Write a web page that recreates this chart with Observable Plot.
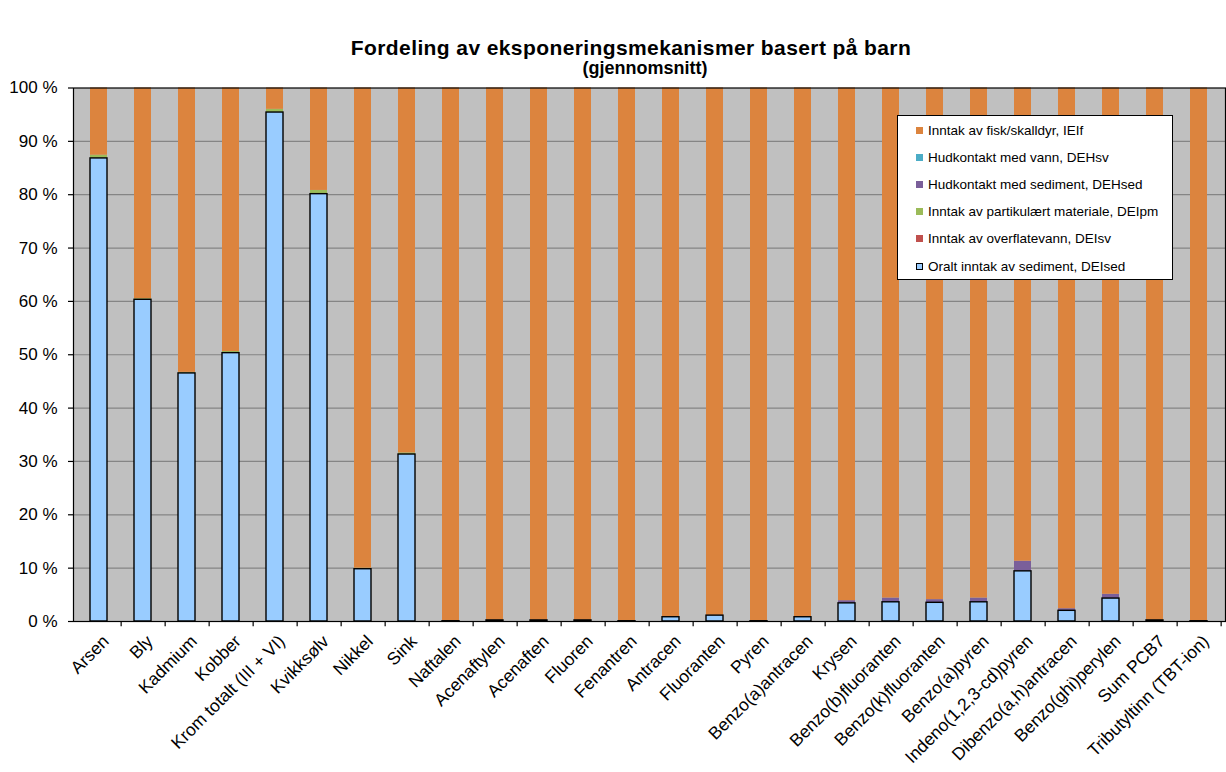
<!DOCTYPE html>
<html>
<head>
<meta charset="utf-8">
<script src="https://cdn.jsdelivr.net/npm/d3@7"></script>
<script src="https://cdn.jsdelivr.net/npm/@observablehq/plot@0.6"></script>
<style>
  body { margin: 0; background: white; font-family: "Liberation Sans", Arial, sans-serif; }
  #wrap { position: relative; width: 1226px; height: 772px; }
  .t { position: absolute; font-weight: bold; line-height: 1; white-space: nowrap; transform: translate(-50%, -50%); z-index: 2; }
  #legend { position: absolute; left: 897px; top: 115px; width: 276px; height: 165px; box-sizing: border-box; border: 1px solid black; background: white; font-size: 13.5px; z-index: 2; }
  .li { position: absolute; left: 18px; height: 16px; display: flex; align-items: center; transform: translateY(-50%); white-space: nowrap; }
  .sw { width: 7px; height: 7px; margin-right: 5px; box-sizing: border-box; }
</style>
</head>
<body>
<div id="wrap">
  <div id="chart" style="position:absolute; left:0; top:60px; z-index:1;"></div>
  <div class="t" style="left:631px; top:46.5px; font-size:21px; letter-spacing:0.4px;">Fordeling av eksponeringsmekanismer basert på barn</div>
  <div class="t" style="left:645px; top:67.5px; font-size:18px;">(gjennomsnitt)</div>
  <div id="legend"></div>
</div>
<script>
const categories = ["Arsen", "Bly", "Kadmium", "Kobber", "Krom totalt (III + VI)", "Kvikksølv", "Nikkel", "Sink",
  "Naftalen", "Acenaftylen", "Acenaften", "Fluoren", "Fenantren", "Antracen", "Fluoranten", "Pyren",
  "Benzo(a)antracen", "Krysen", "Benzo(b)fluoranten", "Benzo(k)fluoranten", "Benzo(a)pyren",
  "Indeno(1,2,3-cd)pyren", "Dibenzo(a,h)antracen", "Benzo(ghi)perylen", "Sum PCB7", "Tributyltinn (TBT-ion)"];

// stacking order, bottom to top
const seriesNames = ["Oralt inntak av sediment, DEIsed", "Inntak av overflatevann, DEIsv",
  "Inntak av partikulært materiale, DEIpm", "Hudkontakt med sediment, DEHsed",
  "Hudkontakt med vann, DEHsv", "Inntak av fisk/skalldyr, IEIf"];
const seriesColors = ["#99CCFF", "#C0504D", "#9BBB59", "#7A5F9A", "#4BACC6", "#DC843E"];

const DEIsed = [86.8, 60.3, 46.5, 50.3, 95.4, 80.1, 9.8, 31.3,
  0.05, 0.2, 0.2, 0.2, 0.05, 0.8, 1.1, 0.05,
  0.8, 3.4, 3.6, 3.5, 3.6, 9.4, 2.0, 4.3, 0.2, 0.05];
const DEIsv = [0, 0, 0, 0, 0, 0, 0, 0,
  0, 0, 0, 0, 0, 0, 0, 0,
  0, 0, 0, 0, 0, 0, 0, 0, 0, 0];
const DEIpm = [0.6, 0.2, 0.2, 0.3, 0.6, 0.7, 0.2, 0.3,
  0, 0, 0, 0, 0, 0, 0, 0,
  0, 0, 0, 0, 0, 0, 0, 0, 0, 0];
const DEHsed = [0, 0, 0, 0, 0, 0, 0, 0,
  0, 0.02, 0.02, 0.02, 0, 0.05, 0.05, 0,
  0.05, 0.5, 0.8, 0.6, 0.8, 1.9, 0.4, 0.8, 0.02, 0];
const DEHsv = [0, 0, 0, 0, 0, 0, 0, 0,
  0, 0, 0, 0, 0, 0, 0, 0,
  0, 0, 0, 0, 0, 0, 0, 0, 0, 0];
const IEIf = categories.map((c, i) => 100 - DEIsed[i] - DEIsv[i] - DEIpm[i] - DEHsed[i] - DEHsv[i]);

const yTicks = [0, 10, 20, 30, 40, 50, 60, 70, 80, 90, 100];

const seriesValues = [DEIsed, DEIsv, DEIpm, DEHsed, DEHsv, IEIf];
const long = [];
categories.forEach((c, i) => {
  seriesNames.forEach((s, j) => long.push({cat: c, series: s, value: seriesValues[j][i]}));
});
const blue = categories.map((c, i) => ({cat: c, value: DEIsed[i]}));

const chart = Plot.plot({
  width: 1226,
  height: 712,
  marginTop: 27.5,
  marginBottom: 151,
  marginLeft: 73,
  marginRight: 1,
  style: {fontFamily: "'Liberation Sans', Arial, sans-serif", fontSize: "16px", background: "transparent", color: "black"},
  x: {domain: categories, paddingInner: 0.61, paddingOuter: 0.305, label: null},
  y: {domain: [0, 100], label: null},
  color: {domain: seriesNames, range: seriesColors},
  marks: [
    Plot.frame({fill: "#C0C0C0"}),
    Plot.gridY(yTicks.filter(d => d > 0 && d < 100), {stroke: "#858585", strokeOpacity: 1, strokeWidth: 1.2}),
    Plot.barY(long, {x: "cat", y: "value", fill: "series", order: seriesNames}),
    Plot.barY(blue, {x: "cat", y: "value", fill: "#99CCFF", stroke: "black", strokeWidth: 1.4}),
    Plot.frame({stroke: "black", strokeWidth: 1.2}),
    Plot.ruleX(categories, {x: d => d, y1: 0, y2: -1, dx: 22.15, stroke: "black", strokeWidth: 1.2}),
    Plot.axisY(yTicks, {tickSize: 5, tickPadding: 11, tickFormat: d => d + " %", fontSize: 17, strokeWidth: 1.2}),
    Plot.axisX({tickSize: 0, tickRotate: -45, tickPadding: 17, dx: 7, fontSize: 17.5})
  ]
});
document.getElementById("chart").appendChild(chart);

// legend (top entry = top of stack)
const legend = document.getElementById("legend");
const legendOrder = [5, 4, 3, 2, 1, 0];
legendOrder.forEach((j, k) => {
  const row = document.createElement("div");
  row.className = "li";
  row.style.top = (14 + k * 27.2) + "px";
  const sw = document.createElement("div");
  sw.className = "sw";
  sw.style.background = seriesColors[j];
  if (j === 0) sw.style.border = "1.2px solid black";
  const tx = document.createElement("span");
  tx.textContent = seriesNames[j];
  row.appendChild(sw);
  row.appendChild(tx);
  legend.appendChild(row);
});
</script>
</body>
</html>
